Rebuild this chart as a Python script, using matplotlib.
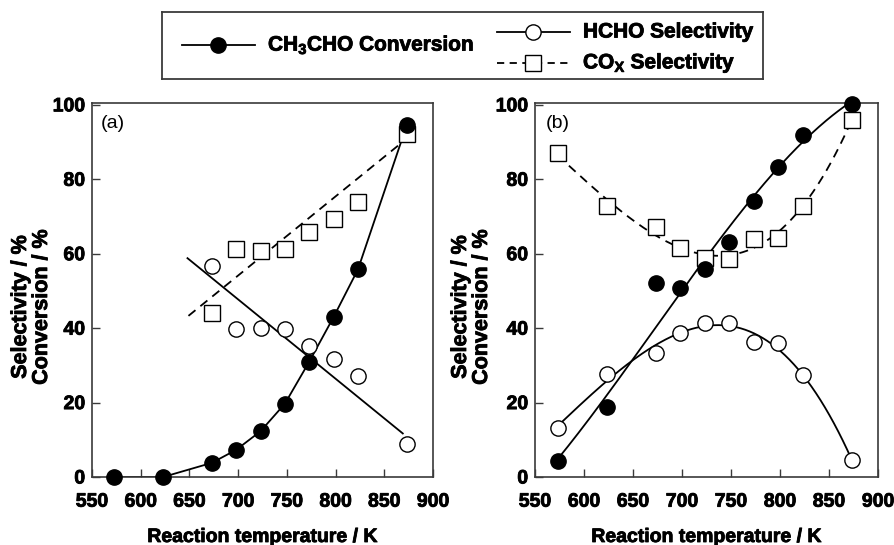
import numpy as np
import matplotlib
matplotlib.use('Agg')
import matplotlib.pyplot as plt
import matplotlib.patheffects as pe
from matplotlib.lines import Line2D

plt.rcParams['font.family'] = ['Liberation Sans', 'DejaVu Sans']
plt.rcParams['font.weight'] = 'bold'
plt.rcParams['mathtext.fontset'] = 'custom'
plt.rcParams['mathtext.rm'] = 'Liberation Sans'
plt.rcParams['mathtext.bf'] = 'Liberation Sans:bold'

#==============================================================================
#                         Data
#==============================================================================
temp = [573, 623, 673, 698, 723, 748, 773, 798, 823, 873]   # K

# panel (a)
conv_a = [0.0, 0.0, 3.8, 7.3, 12.3, 19.7, 31.0, 43.0, 55.8, 94.5]
hcho_a_x = [673, 698, 723, 748, 773, 798, 823, 873]
hcho_a = [56.8, 39.7, 40.0, 39.7, 35.2, 31.7, 27.2, 8.9]
cox_a_x = [673, 698, 723, 748, 773, 798, 823, 873]
cox_a = [44.2, 61.3, 60.8, 61.3, 65.8, 69.4, 73.8, 92.3]
# straight trend lines drawn in (a): end points
hcho_a_trend_x = [648, 869]
hcho_a_trend = [58.8, 11.7]
cox_a_trend_x = [649, 871]
cox_a_trend = [43.3, 90.5]

# panel (b)
conv_b = [4.3, 18.9, 52.1, 50.9, 55.8, 63.1, 74.3, 83.4, 91.9, 100.3]
hcho_b = [13.1, 27.7, 33.2, 38.8, 41.3, 41.5, 36.4, 36.1, 27.4, 4.6]
cox_b = [87.0, 72.7, 67.3, 61.5, 58.9, 58.6, 63.9, 64.2, 72.8, 96.0]
# smooth curve in (b) conversion
conv_b_curve_x = [573, 623, 655, 679, 723, 773, 798, 823, 873]
conv_b_curve = [4.6, 21.5, 35.0, 42.2, 57.5, 74.3, 83.4, 91.5, 100.3]

#==============================================================================
#                         Plotting
#==============================================================================
fig = plt.figure(figsize=(8.95, 5.45), dpi=100)
ax_a = fig.add_axes([92/895, 68/545, 341/895, 374/545])
ax_b = fig.add_axes([535/895, 68/545, 343/895, 374/545])

lw = 1.3
ms = 11
spine_c = '#3a3a3a'
heavy = [pe.withStroke(linewidth=0.6, foreground='k')]


def style(ax, xlim):
    ax.set_xlim(*xlim)
    ax.set_ylim(0, 100.5)
    ax.set_xticks(np.arange(550, 901, 50))
    ax.set_yticks(np.arange(0, 101, 20))
    ax.tick_params(direction='in', length=6, width=1.0, color=spine_c,
                   top=False, right=False, labelsize=14)
    ax.tick_params(axis='x', pad=12)
    ax.tick_params(axis='y', pad=5)
    for lab in ax.get_xticklabels() + ax.get_yticklabels():
        lab.set_path_effects(heavy)
    for sp in ax.spines.values():
        sp.set_color(spine_c)
        sp.set_linewidth(1.2)


def smooth(x, y, deg, x0, x1):
    p = np.polyfit(x, y, deg)
    xs = np.linspace(x0, x1, 200)
    return xs, np.polyval(p, xs)


# ---- (a)
style(ax_a, (552.5, 896))
ax_a.plot(temp, conv_a, 'k-', lw=lw)
ax_a.plot(hcho_a_trend_x, hcho_a_trend, 'k-', lw=lw)
ax_a.plot(cox_a_trend_x, cox_a_trend, 'k--', lw=lw, dashes=(5, 3.5))
ax_a.plot(cox_a_x, cox_a, 's', ms=ms, mfc='white', mec='k', mew=1.0, clip_on=False)
ax_a.plot(hcho_a_x, hcho_a, 'o', ms=ms, mfc='white', mec='k', mew=1.0, clip_on=False)
ax_a.plot(temp, conv_a, 'o', ms=ms, mfc='k', mec='k', clip_on=False, zorder=5)
ax_a.text(0.026, 0.945, '(a)', transform=ax_a.transAxes, fontsize=14,
          fontweight='normal', va='center')

# ---- (b)
style(ax_b, (551, 900))
xs, ys = smooth(conv_b_curve_x, conv_b_curve, 3, 573, 873)
ax_b.plot(xs, ys, 'k-', lw=lw)
xs, ys = smooth(temp, hcho_b, 3, 573, 873)
ax_b.plot(xs, ys, 'k-', lw=lw)
xs, ys = smooth(temp, cox_b, 3, 573, 873)
ax_b.plot(xs, ys, 'k--', lw=lw, dashes=(5, 3.5))
ax_b.plot(temp, cox_b, 's', ms=ms, mfc='white', mec='k', mew=1.0, clip_on=False)
ax_b.plot(temp, hcho_b, 'o', ms=ms, mfc='white', mec='k', mew=1.0, clip_on=False)
ax_b.plot(temp, conv_b, 'o', ms=ms, mfc='k', mec='k', clip_on=False, zorder=5)
ax_b.text(0.03, 0.945, '(b)', transform=ax_b.transAxes, fontsize=14,
          fontweight='normal', va='center')

# axis labels
for xc, yc in [(31, 262.5), (471, 706.5)]:
    fig.text(xc/895, (545-307)/545, 'Selectivity / %\nConversion / %', rotation=90,
             ha='center', va='center', fontsize=15.5, fontweight='bold',
             multialignment='center', linespacing=1.0, path_effects=heavy)
    fig.text(yc/895, 3/545, 'Reaction temperature / K', ha='center', va='baseline',
             fontsize=14, fontweight='bold', path_effects=heavy)

# legend box
lg = fig.add_axes([162/895, 466/545, 601/895, 67/545])
lg.set_xlim(0, 601)
lg.set_ylim(67, 0)
lg.set_xticks([])
lg.set_yticks([])
for sp in lg.spines.values():
    sp.set_color(spine_c)
    sp.set_linewidth(1.3)
lg.add_line(Line2D([20, 93], [33, 33], color='k', lw=lw))
lg.add_line(Line2D([56], [33], marker='o', ms=ms, mfc='k', mec='k'))
lg.text(106, 33, r'CH$_\mathbf{3}$CHO Conversion', fontsize=15, fontweight='bold',
        va='center', path_effects=heavy)
lg.add_line(Line2D([335, 408], [20, 20], color='k', lw=lw))
lg.add_line(Line2D([371], [20], marker='o', ms=ms, mfc='white', mec='k', mew=1.0))
lg.text(421, 20, 'HCHO Selectivity', fontsize=15, fontweight='bold', va='center',
        path_effects=heavy)
lg.add_line(Line2D([335, 408], [51, 51], color='k', lw=lw, ls='--', dashes=(4, 3)))
lg.add_line(Line2D([371], [51], marker='s', ms=ms, mfc='white', mec='k', mew=1.0))
lg.text(421, 51, r'CO$_\mathbf{X}$ Selectivity', fontsize=15, fontweight='bold',
        va='center', path_effects=heavy)

fig.savefig('out.png', dpi=100)
